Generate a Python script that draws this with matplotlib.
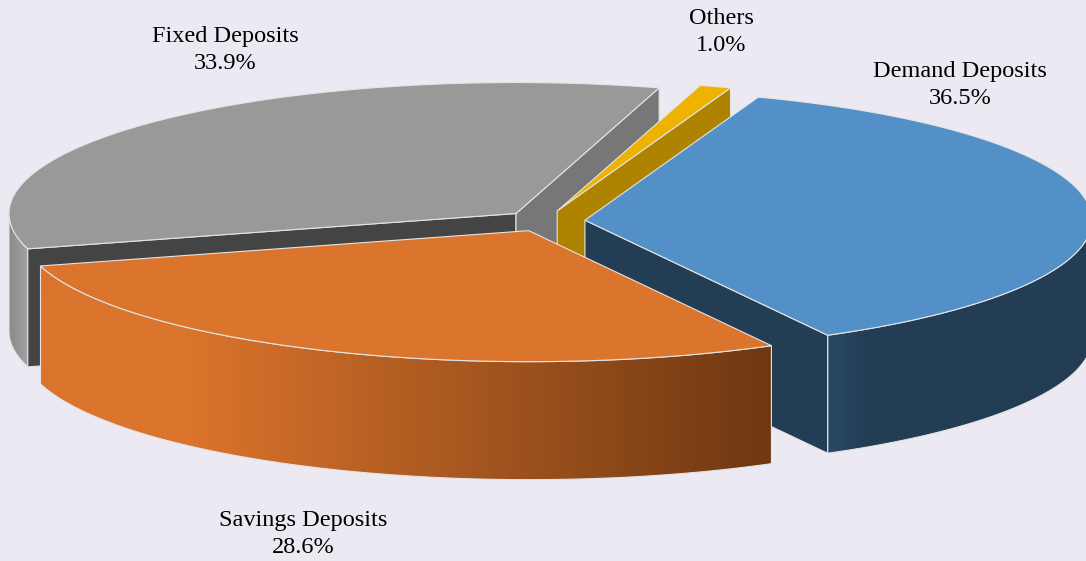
import numpy as np
import matplotlib
matplotlib.use("Agg")
import matplotlib.pyplot as plt
from matplotlib.colors import LinearSegmentedColormap
from matplotlib.patches import Polygon

# Data
names = ["Demand Deposits", "Savings Deposits", "Fixed Deposits", "Others"]
shares = [36.5, 28.6, 33.9, 1.0]

# Pie geometry, in pixels of the picture
cx, cy = 544.5, 221
rx, ry = 507, 131
depth = 118
explode = 0.08
start_angle = 20

bg = "#ECE9F2"
edge = "#E4E4E4"
label_pos = {
    "Demand Deposits": (960, 85),
    "Savings Deposits": (303, 534),
    "Fixed Deposits": (225, 50),
    "Others": (721, 32),
}

fig = plt.figure(figsize=(10.86, 5.61), dpi=100, facecolor=bg)
ax = fig.add_axes([0, 0, 1, 1])
ax.set_facecolor(bg)
ax.axis("off")


def point(ox, oy, deg):
    # angle runs clockwise from the top of the ellipse
    t = np.radians(deg)
    return ox + rx * np.sin(t), oy - ry * np.cos(t)


def arc(ox, oy, a0, a1):
    t = np.linspace(a0, a1, 200)
    x, y = point(ox, oy, t)
    return np.column_stack([x, y])


def poly(pts, color, z):
    p = Polygon(pts, closed=True, facecolor=color, edgecolor=edge, lw=0.8, joinstyle="miter", zorder=z)
    ax.add_patch(p)
    return p


def cut_face(ox, oy, deg, color, z):
    ex, ey = point(ox, oy, deg)
    poly([(ox, oy), (ex, ey), (ex, ey + depth), (ox, oy + depth)], color, z)


def outer_wall(ox, oy, a0, a1, stops, z):
    top = arc(ox, oy, a0, a1)
    bottom = top[::-1] + [0, depth]
    pts = np.vstack([top, bottom])
    p = poly(pts, "none", z + 0.2)
    cmap = LinearSegmentedColormap.from_list("wall", stops)
    grad = np.linspace(0, 1, 256).reshape(1, -1)
    im = ax.imshow(grad, cmap=cmap, aspect="auto", zorder=z,
                   extent=[pts[:, 0].min(), pts[:, 0].max(), pts[:, 1].max(), pts[:, 1].min()])
    im.set_clip_path(p)


def slice_origin(mid):
    t = np.radians(mid)
    return cx + explode * rx * np.sin(t), cy - explode * ry * np.cos(t)


# slice angles from the shares
sweep = np.array(shares) / sum(shares) * 360
a0s = start_angle + np.concatenate([[0], np.cumsum(sweep)[:-1]])
a1s = a0s + sweep
o = {n: slice_origin((a + b) / 2) for n, a, b in zip(names, a0s, a1s)}
ang = {n: (a, b) for n, a, b in zip(names, a0s, a1s)}

# Fixed deposits (back)
ox, oy = o["Fixed Deposits"]
a0, a1 = ang["Fixed Deposits"]
outer_wall(ox, oy, a0, 270, [(0, "#8A8A8A"), (1, "#A2A2A2")], 1)
cut_face(ox, oy, a0, "#444444", 1.5)
cut_face(ox, oy, a1, "#777777", 1.5)
poly(np.vstack([[(ox, oy)], arc(ox, oy, a0, a1)]), "#999999", 2)

# Others
ox, oy = o["Others"]
a0, a1 = ang["Others"]
poly(np.vstack([[(ox, oy)], arc(ox, oy, a0, a1)]), "#EDB300", 3)
cut_face(ox, oy, a1, "#AE8300", 3.5)

# Demand deposits
ox, oy = o["Demand Deposits"]
a0, a1 = ang["Demand Deposits"]
outer_wall(ox, oy, 90, a1, [(0, "#2A4866"), (0.15, "#223D54"), (1, "#223D54")], 4)
cut_face(ox, oy, a1, "#223D54", 4.5)
poly(np.vstack([[(ox, oy)], arc(ox, oy, a0, a1)]), "#5390C8", 5)

# Savings deposits (front)
ox, oy = o["Savings Deposits"]
a0, a1 = ang["Savings Deposits"]
outer_wall(ox, oy, a0, a1, [(0, "#DB742C"), (0.2, "#DB742C"), (1, "#6E3812")], 6)
poly(np.vstack([[(ox, oy)], arc(ox, oy, a0, a1)]), "#DB742C", 7)

for n, s in zip(names, shares):
    x, y = label_pos[n]
    ax.text(x, y, f"{n}\n{s:.1f}%", ha="center", va="center", fontsize=17.5,
            family="Liberation Serif", color="black", linespacing=1.33, zorder=10)

ax.set_xlim(0, 1086)
ax.set_ylim(561, 0)
fig.savefig("out.png", dpi=100, facecolor=bg)
